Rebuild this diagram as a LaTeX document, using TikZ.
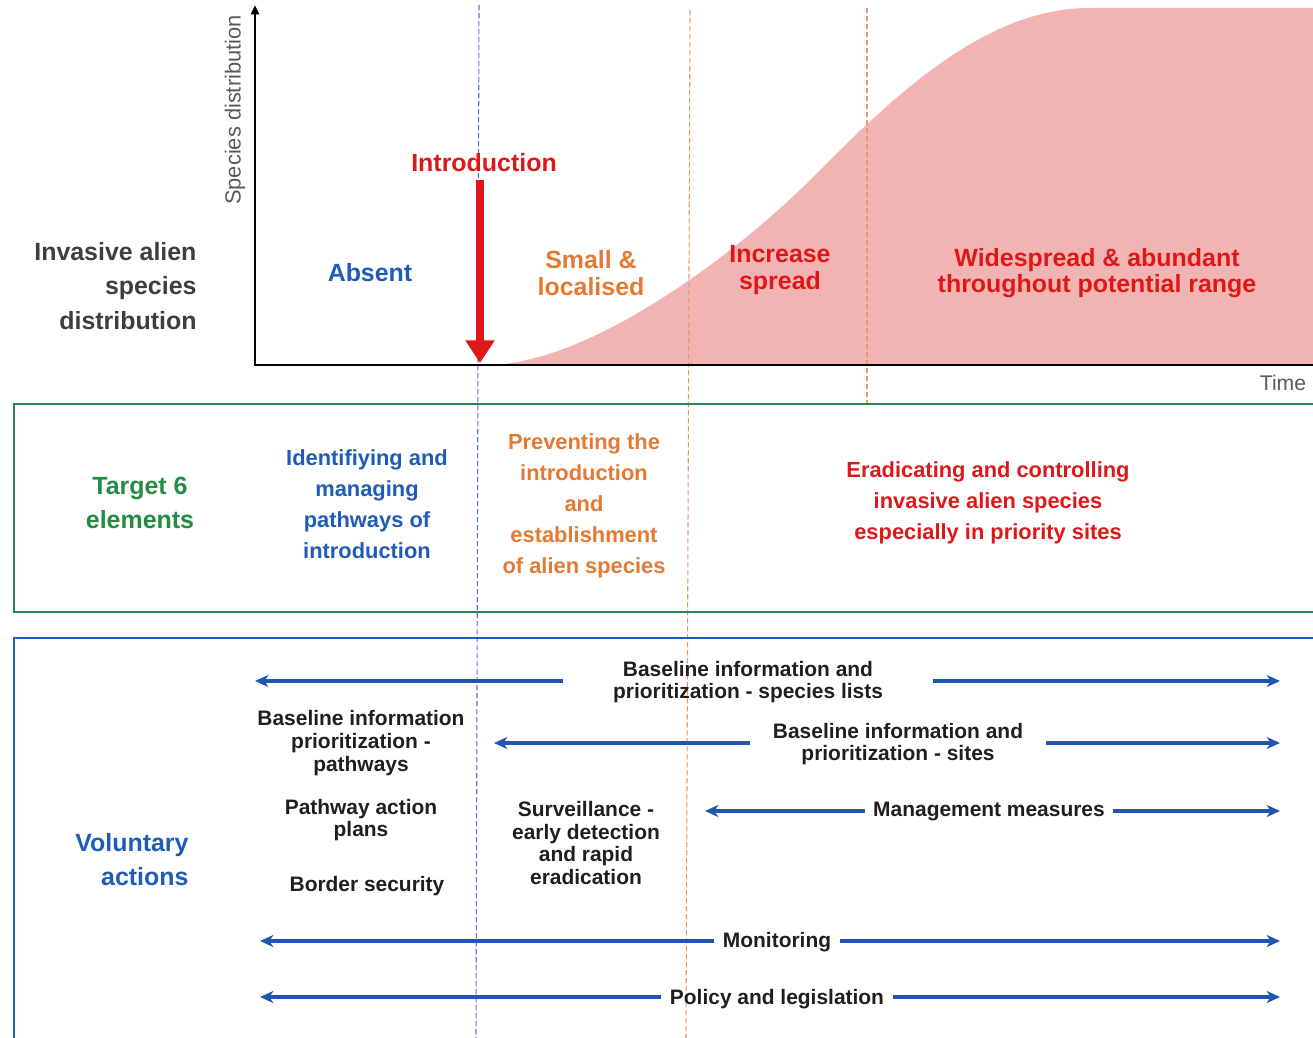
\documentclass[tikz,border=0pt]{standalone}
\usepackage{fontspec}
\setmainfont{Liberation Sans}
\usetikzlibrary{arrows.meta}

\definecolor{absentblue}{RGB}{31,92,184}
\definecolor{smallorange}{RGB}{228,122,50}
\definecolor{spreadred}{RGB}{222,24,24}
\definecolor{targetgreen}{RGB}{34,140,66}
\definecolor{boxgreen}{RGB}{44,132,84}
\definecolor{boxblue}{RGB}{30,92,182}
\definecolor{arrowblue}{RGB}{32,86,176}
\definecolor{curvepink}{RGB}{242,180,178}
\definecolor{labelgrey}{RGB}{62,62,62}
\definecolor{axisgrey}{RGB}{90,90,90}
\definecolor{dashblue}{RGB}{90,122,188}
\definecolor{dashorange}{RGB}{234,150,112}

\tikzset{every picture/.style={line width=0.75pt}}
\tikzset{
  bigtxt/.style={inner sep=0.75pt, align=center, font=\fontsize{18.7}{20}\selectfont\bfseries},
  midtxt/.style={inner sep=0.75pt, align=center, font=\fontsize{16.4}{23.25}\selectfont\bfseries},
  acttxt/.style={inner ysep=0.75pt, inner xsep=6pt, align=center, text=black!88, font=\fontsize{15.7}{17}\selectfont\bfseries},
  actarrow/.style={draw=arrowblue, line width=2.3pt, -{Stealth[length=10pt,width=9pt,inset=3pt]}},
  phaseline/.style={dash pattern=on 4pt off 2pt, line width=0.8pt},
}

\begin{document}
\begin{tikzpicture}[x=0.75pt,y=0.75pt,yscale=-1,xscale=1]
\useasboundingbox (0,0) rectangle (1313,1038);

%Shape: distribution curve
\fill [curvepink] (490,365) .. controls (600,362) and (755,238) .. (820,170) .. controls (904,86) and (990,8) .. (1090,8) -- (1313,8) -- (1313,365) -- cycle;

%Straight Lines: phase limits
\draw [dashblue, phaseline] (479,5) -- (476,1038);
\draw [dashorange, phaseline] (690,10) -- (686,1038);
\draw [dashorange, phaseline] (867,8) -- (867,404);

%Straight Lines: axes
\coordinate (origin) at (255,365);
\coordinate (ytop) at (255,5);
\coordinate (xend) at (1313,365);
\draw [line width=2.2pt, -{Triangle[length=7pt,width=6pt]}] (origin) -- (ytop);
\draw [line width=2.2pt] ([xshift=-0.8pt]origin) -- (xend);

% Text Node
\node [inner sep=0.75pt, rotate=90, text=axisgrey, font=\fontsize{16.4}{18}\selectfont] (ylab) at (235,110) {Species distribution};
% Text Node
\node [inner sep=0.75pt, text=axisgrey, font=\fontsize{15.9}{18}\selectfont] (xlab) at (1283,383) {Time};

% Text Node
\node [bigtxt, text=spreadred] (intro) at (484,163) {Introduction};
\coordinate (introtop) at (480,180);
\coordinate (introtip) at (480,363);
\draw [spreadred, line width=6.3pt, -{Triangle[length=17pt,width=21pt]}] (introtop) -- (introtip);

% Text Node
\node [bigtxt, text=labelgrey, align=right, anchor=east, font=\fontsize{18.7}{26}\selectfont\bfseries] (ias) at (198,286) {Invasive alien\\species\\distribution};
% Text Node
\node [bigtxt, text=absentblue] (absent) at (370,273) {Absent};
% Text Node
\node [bigtxt, text=smallorange] (small) at (591,273) {Small \&\\localised};
% Text Node
\node [bigtxt, text=spreadred] (increase) at (780,270) {Increase\\spread};
% Text Node
\node [bigtxt, text=spreadred] (wide) at (1097,273) {Widespread \& abundant\\throughout potential range};

%Shape: Target 6 box
\draw [boxgreen, line width=1.6pt] (1313,404) -- (14,404) -- (14,612) -- (1313,612);

% Text Node
\node [bigtxt, text=targetgreen, font=\fontsize{18.7}{26}\selectfont\bfseries] (target) at (140,503) {Target 6\\elements};
% Text Node
\node [midtxt, text=absentblue] (pathways) at (367,504) {Identifiying and\\managing\\pathways of\\introduction};
% Text Node
\node [midtxt, text=smallorange] (prevent) at (584,506) {Preventing the\\introduction\\and\\establishment\\of alien species};
% Text Node
\node [midtxt, text=spreadred] (eradicate) at (988,503) {Eradicating and controlling\\invasive alien species\\especially in priority sites};

%Shape: Voluntary actions box
\draw [boxblue, line width=1.6pt] (1313,638) -- (14,638) -- (14,1040);

% Text Node
\node [bigtxt, text=absentblue, align=right, anchor=east, font=\fontsize{18.7}{25.5}\selectfont\bfseries] (voluntary) at (190,860) {Voluntary\\actions};

% Text Node
\node [acttxt] (pathbase) at (361,743) {Baseline information\\prioritization -\\pathways};
% Text Node
\node [acttxt] (pathplan) at (361,820) {Pathway action\\plans};
% Text Node
\node [acttxt] (border) at (367,886) {Border security};
% Text Node
\node [acttxt] (surveil) at (586,843) {Surveillance -\\early detection\\and rapid\\eradication};

%Straight Lines: species lists
\node [acttxt, inner xsep=37pt] (species) at (748,682) {Baseline information and\\prioritization - species lists};
\coordinate (speciesL) at (255,681);
\coordinate (speciesR) at (1280,681);
\draw [actarrow] (species.west |- speciesL) -- (speciesL);
\draw [actarrow] (species.east |- speciesR) -- (speciesR);

%Straight Lines: sites
\node [acttxt, inner xsep=17pt] (sites) at (898,744) {Baseline information and\\prioritization - sites};
\coordinate (sitesL) at (494,743);
\coordinate (sitesR) at (1280,743);
\draw [actarrow] (sites.west |- sitesL) -- (sitesL);
\draw [actarrow] (sites.east |- sitesR) -- (sitesR);

%Straight Lines: management
\node [acttxt] (manage) at (989,812) {Management measures};
\coordinate (manageL) at (705,811);
\coordinate (manageR) at (1280,811);
\draw [actarrow] (manage.west |- manageL) -- (manageL);
\draw [actarrow] (manage.east |- manageR) -- (manageR);

%Straight Lines: monitoring
\node [acttxt] (monitor) at (777,942) {Monitoring};
\coordinate (monitorL) at (260,941);
\coordinate (monitorR) at (1280,941);
\draw [actarrow] (monitor.west |- monitorL) -- (monitorL);
\draw [actarrow] (monitor.east |- monitorR) -- (monitorR);

%Straight Lines: policy
\node [acttxt] (policy) at (777,999) {Policy and legislation};
\coordinate (policyL) at (260,997);
\coordinate (policyR) at (1280,997);
\draw [actarrow] (policy.west |- policyL) -- (policyL);
\draw [actarrow] (policy.east |- policyR) -- (policyR);

\end{tikzpicture}
\end{document}
